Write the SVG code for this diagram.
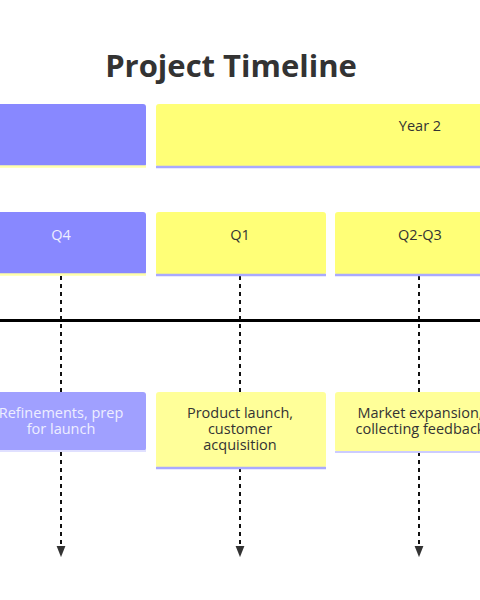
<svg xmlns="http://www.w3.org/2000/svg" width="480" height="600" viewBox="0 0 480 600">
<defs>
<style>
text{font-family:"Open Sans","Noto Sans","Liberation Sans",sans-serif;font-size:14.5px;text-anchor:middle;fill:#333}
.title{font-size:31px;font-weight:bold}
.light{fill:#eeeeff}
.purple{fill:#8888ff}
.lpurple{fill:#a0a0ff}
.yellow{fill:#ffff77}
.lyellow{fill:#ffff99}
.bl{stroke:#aaaaff;stroke-width:2.5}
.by{stroke:#ffffaa;stroke-width:2.5}
.dash{stroke:#111;stroke-width:2;stroke-dasharray:4 4;fill:none}
</style>
<marker id="arr" viewBox="0 0 10 10" refX="9" refY="5" markerWidth="5.5" markerHeight="5.5" orient="auto" markerUnits="strokeWidth">
<path d="M0,1 L10,5 L0,9 z" fill="#333"/>
</marker>
</defs>
<rect width="480" height="600" fill="#fff"/>
<text class="title" x="231" y="77">Project Timeline</text>
<g id="connectors">
<line x1="0" y1="320.5" x2="480" y2="320.5" stroke="#000" stroke-width="3"/>
<line class="dash" x1="61" y1="276" x2="61" y2="556" marker-end="url(#arr)"/>
<line class="dash" x1="240" y1="276" x2="240" y2="556" marker-end="url(#arr)"/>
<line class="dash" x1="419" y1="276" x2="419" y2="556" marker-end="url(#arr)"/>
</g>
<g id="year1">
<rect class="purple" x="-400" y="104" width="546" height="63" rx="3"/>
<line class="by" x1="-400" y1="166.5" x2="146" y2="166.5"/>
</g>
<g id="year2">
<rect class="yellow" x="156" y="104" width="528" height="63" rx="3"/>
<line class="bl" x1="156" y1="167" x2="684" y2="167"/>
<text x="420" y="131">Year 2</text>
</g>
<g id="q4">
<rect class="purple" x="-24" y="212" width="170" height="63" rx="3"/>
<line class="by" x1="-24" y1="274.5" x2="146" y2="274.5"/>
<text class="light" x="61" y="240">Q4</text>
</g>
<g id="q1">
<rect class="yellow" x="156" y="212" width="170" height="63" rx="3"/>
<line class="bl" x1="156" y1="275" x2="326" y2="275"/>
<text x="240" y="240">Q1</text>
</g>
<g id="q2q3">
<rect class="yellow" x="335" y="212" width="170" height="63" rx="3"/>
<line class="bl" x1="335" y1="275" x2="505" y2="275"/>
<text x="420" y="240">Q2-Q3</text>
</g>
<g id="refinements">
<rect class="lpurple" x="-24" y="392" width="170" height="59" rx="3"/>
<line stroke="#e0e0ff" stroke-width="2" x1="-24" y1="451" x2="146" y2="451"/>
<text class="light" x="61" y="418">Refinements, prep</text>
<text class="light" x="61" y="434">for launch</text>
</g>
<g id="launch">
<rect class="lyellow" x="156" y="392" width="170" height="76" rx="3"/>
<line class="bl" x1="156" y1="468" x2="326" y2="468"/>
<text x="240" y="418">Product launch,</text>
<text x="240" y="434">customer</text>
<text x="240" y="450">acquisition</text>
</g>
<g id="expansion">
<rect class="lyellow" x="335" y="392" width="170" height="60" rx="3"/>
<line stroke="#ccccff" stroke-width="2" x1="335" y1="452" x2="505" y2="452"/>
<text x="420" y="418">Market expansion,</text>
<text x="420" y="434">collecting feedback</text>
</g>
</svg>
